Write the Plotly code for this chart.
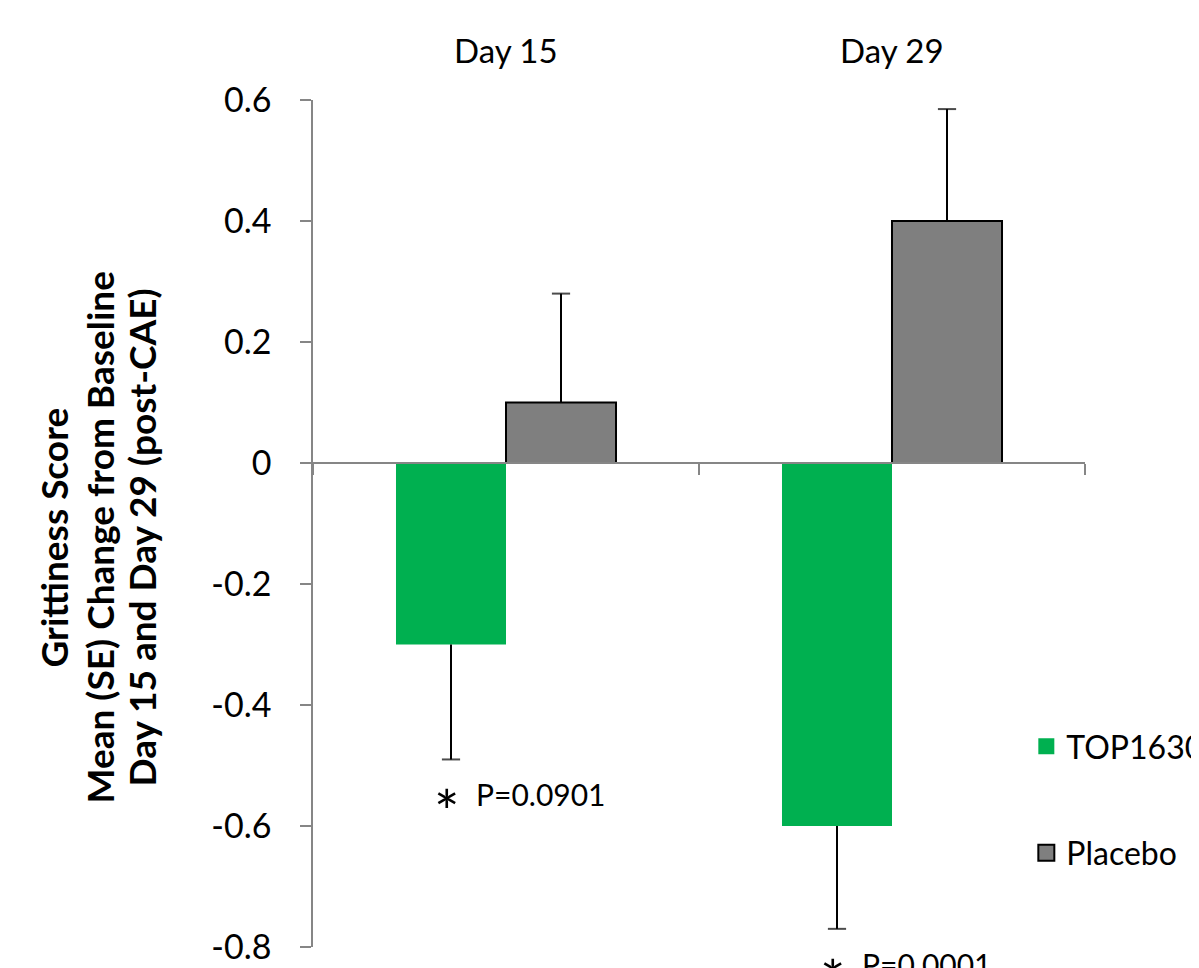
import plotly.graph_objects as go

# ---------------- data ----------------
categories = ["Day 15", "Day 29"]
series_names = ["TOP1630", "Placebo"]
top1630_mean = [-0.30, -0.60]
top1630_se = [0.19, 0.17]
placebo_mean = [0.10, 0.40]
placebo_se = [0.18, 0.185]
p_value_labels = ["P=0.0901", "P=0.0001"]
y_tick_values = [-0.8, -0.6, -0.4, -0.2, 0, 0.2, 0.4, 0.6]
y_tick_labels = ["-0.8", "-0.6", "-0.4", "-0.2", "0", "0.2", "0.4", "0.6"]
y_title_lines = ["Grittiness Score",
                 "Mean (SE) Change from Baseline",
                 "Day 15 and Day 29 (post-CAE)"]

# ---------------- style ----------------
GREEN = "#00B050"
GREY = "#7F7F7F"
AXIS = "#868686"
FONT = "Lato, Carlito, Calibri, sans-serif"
W, H = 1199, 968
PAGE_OFF = 8  # page body margin
M_L, M_R, M_T, M_B = 313 - PAGE_OFF, 114 + PAGE_OFF, 100 - PAGE_OFF, 21 + PAGE_OFF
BARGAP = 0.43
Y_RANGE = [-0.8, 0.6]
X_RANGE = [-0.5, len(categories) - 0.5]

xi = list(range(len(categories)))
bar_w = (1 - BARGAP) / len(series_names)

fig = go.Figure()

series = [
    (series_names[0], top1630_mean, top1630_se, -1, dict(color=GREEN, line=dict(width=0))),
    (series_names[1], placebo_mean, placebo_se, +1, dict(color=GREY, line=dict(color="black", width=2))),
]

for k, (name, mean, se, direction, mk) in enumerate(series):
    fig.add_trace(go.Bar(x=xi, y=mean, name=name, marker=mk, showlegend=False,
                         hoverinfo="skip"))

# whiskers (one-sided error bars)
for k, (name, mean, se, direction, mk) in enumerate(series):
    off = (k - (len(series) - 1) / 2) * bar_w
    ex, ey, es = [], [], []
    for i, (m, s) in enumerate(zip(mean, se)):
        ex += [i + off, i + off, None]
        ey += [m, m + direction * s, None]
        es += [0, 13, 0]
    fig.add_trace(go.Scatter(x=ex, y=ey, mode="lines+markers", showlegend=False,
                             line=dict(color="black", width=2),
                             marker=dict(symbol="line-ew", size=es,
                                         line=dict(color="black", width=2)),
                             hoverinfo="skip", cliponaxis=False))

# legend entries
for k, (name, mean, se, direction, mk) in enumerate(series):
    fig.add_trace(go.Scatter(x=[None], y=[None], mode="markers", name=name,
                             legendgroup=name,
                             marker=dict(symbol="square", size=16, color=mk["color"],
                                         line=mk["line"])))

annotations = []
# category labels on top
for i, c in enumerate(categories):
    annotations.append(dict(x=i, y=1, xref="x", yref="paper", text=c, showarrow=False,
                            yanchor="middle", yshift=50,
                            font=dict(size=33, color="black", family=FONT)))
# p-values beneath TOP1630 whiskers
off0 = (0 - (len(series) - 1) / 2) * bar_w
for i, (m, s, p) in enumerate(zip(top1630_mean, top1630_se, p_value_labels)):
    annotations.append(dict(x=i + off0, y=m - s, xref="x", yref="y", text=p,
                            showarrow=False, xanchor="left", yanchor="middle",
                            xshift=23, yshift=-35,
                            font=dict(size=30, color="black", family=FONT)))
    annotations.append(dict(x=i + off0, y=m - s, xref="x", yref="y", text="*",
                            showarrow=False, xanchor="center", yanchor="middle",
                            xshift=-4, yshift=-52,
                            font=dict(size=60, color="black", family=FONT)))
# y-axis title lines
for px, line in zip([53, 99, 141], y_title_lines):
    annotations.append(dict(x=(px - PAGE_OFF - M_L) / (W - M_L - M_R), y=0.5,
                            xref="paper", yref="paper", yshift=-14,
                            text="<b>" + line + "</b>", showarrow=False, textangle=-90,
                            xanchor="center", yanchor="middle",
                            font=dict(size=37, color="black", family=FONT)))

zero_pos = (0 - Y_RANGE[0]) / (Y_RANGE[1] - Y_RANGE[0])

fig.update_layout(
    width=W, height=H,
    margin=dict(l=M_L, r=M_R, t=M_T, b=M_B, autoexpand=False),
    paper_bgcolor="white", plot_bgcolor="white",
    barmode="group", bargap=BARGAP, bargroupgap=0,
    font=dict(family=FONT, color="black", size=33),
    showlegend=True,
    legend=dict(x=0.924, xanchor="left", y=0.1736, yanchor="middle",
                traceorder="grouped", tracegroupgap=62,
                font=dict(size=32, color="black", family=FONT),
                bgcolor="rgba(0,0,0,0)"),
    annotations=annotations,
    xaxis=dict(range=X_RANGE, anchor="free", position=zero_pos,
               showline=True, linecolor=AXIS, linewidth=1.5,
               ticks="outside", tickvals=[-0.5, 0.5, 1.5], ticklen=11,
               tickcolor=AXIS, tickwidth=1.5, showticklabels=False,
               showgrid=False, zeroline=False, fixedrange=True),
    yaxis=dict(range=Y_RANGE, showline=True, linecolor=AXIS, linewidth=1.5,
               ticks="outside", ticklen=11, tickcolor=AXIS, tickwidth=1.5,
               tickvals=y_tick_values, ticktext=y_tick_labels,
               ticklabelstandoff=22,
               tickfont=dict(size=34, color="black", family=FONT),
               showgrid=False, zeroline=False, fixedrange=True),
)

fig.write_html("out.html")
